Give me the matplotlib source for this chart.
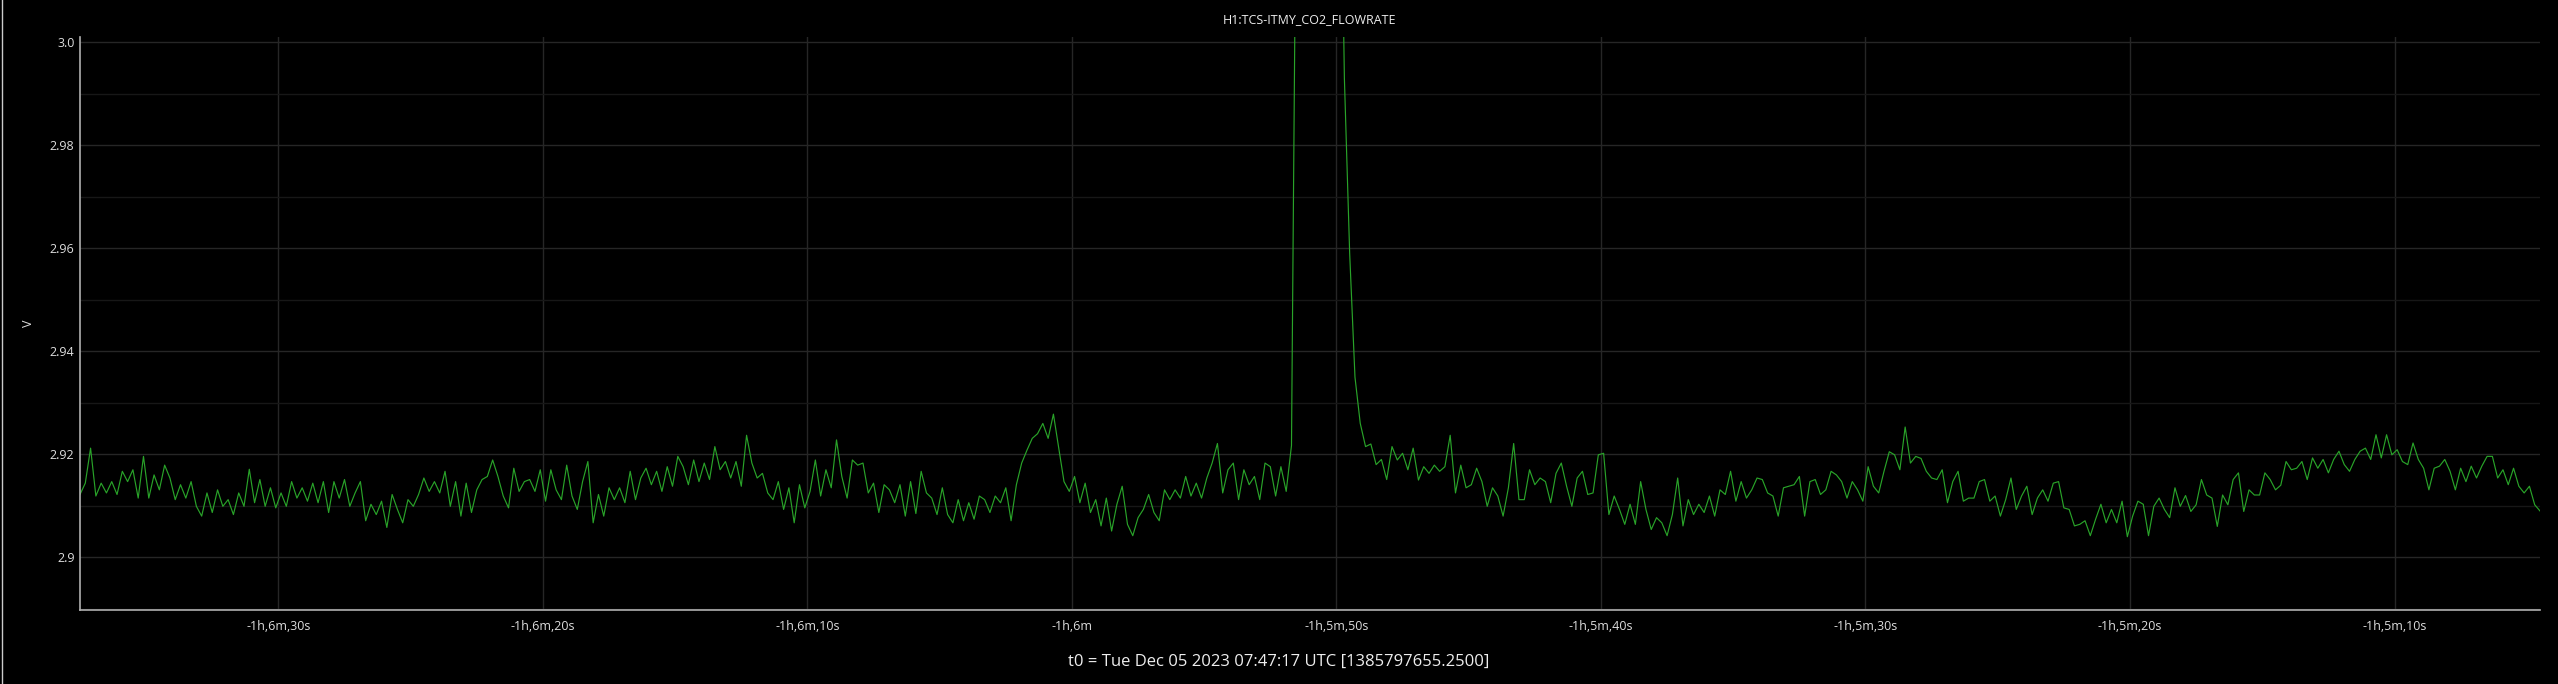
import numpy as np
import matplotlib
matplotlib.use("Agg")
from matplotlib import pyplot as plt
from matplotlib.ticker import MultipleLocator, FuncFormatter

plt.rcParams['font.family'] = ['Open Sans', 'DejaVu Sans']

# Channel and reference time of the trace.
channel = "H1:TCS-ITMY_CO2_FLOWRATE"
t0_text = "t0 = Tue Dec 05 2023 07:47:17 UTC [1385797655.2500]"
y_unit = "V"

# Samples are 0.2 s apart, first one at t0 - 3997.5 s.
t_first = -3997.5
t_step = 0.2
base_v = 2.9

# Flow rate, in mV above 2.9 V.
flow_mv = [
	# -1h6m37s .. -1h6m22s
	12.2, 14.4, 21.2, 11.9, 14.4, 12.5, 14.7, 12.2, 16.7, 14.7,
	17.0, 11.5, 19.6, 11.5, 16.0, 13.1, 17.9, 15.4, 11.2, 14.1,
	11.5, 14.7, 9.9, 8.0, 12.5, 8.7, 13.1, 9.9, 11.2, 8.3,
	12.5, 9.9, 17.1, 10.6, 15.1, 9.9, 13.5, 9.6, 12.5, 9.9,
	14.7, 11.5, 13.5, 10.9, 14.4, 10.6, 14.7, 8.7, 14.7, 11.5,
	15.1, 9.9, 12.5, 14.7, 7.1, 10.3, 8.3, 10.9, 5.8, 12.2,
	9.3, 6.7, 11.2, 9.9, 12.2, 15.4, 12.8, 14.7, 12.5, 16.7,
	9.9, 14.7, 8.0, 14.4, 8.7, 13.1, 15.1, 15.7, 18.9,
	# -1h6m22s .. -1h6m06s
	15.7, 11.9, 9.6, 17.3, 12.8, 14.7, 15.1, 12.8, 17.0, 10.9,
	17.0, 13.1, 11.2, 17.9, 11.9, 9.3, 14.7, 18.6, 6.7, 12.2,
	8.0, 13.5, 11.2, 13.5, 10.6, 16.7, 11.2, 15.4, 17.3, 14.1,
	16.7, 12.8, 17.6, 13.8, 19.6, 17.6, 14.1, 18.9, 14.7, 18.3,
	15.1, 21.5, 17.0, 18.6, 15.4, 18.6, 13.8, 23.7, 18.3, 15.4,
	16.3, 12.5, 11.2, 14.7, 9.3, 13.5, 6.7, 14.1, 9.6, 12.8,
	18.9, 11.9, 17.0, 13.5, 22.8, 15.7, 11.5, 18.9, 17.9, 18.3,
	12.5, 14.4, 8.7, 14.1, 13.1, 10.6, 14.1, 8.0, 14.7,
	# small bump near -1h6m, then up to the jump
	8.5,
	16.7, 12.5, 11.5, 8.3, 13.5, 8.3, 6.7, 11.2, 7.1, 10.6,
	7.4, 11.9, 11.2, 8.7, 11.9, 10.6, 13.5, 7.1, 14.1, 18.3,
	20.8, 23.1, 24.0, 26.0, 23.1, 27.8,
	21.2, 14.7, 12.8, 15.7, 10.6, 14.4, 8.7, 11.2, 6.1, 11.5,
	5.1, 10.3, 13.8, 6.4, 4.2, 7.7, 9.3, 12.2, 8.7, 7.1,
	13.1, 11.2, 13.1, 11.5, 15.7, 11.9, 14.4, 11.5, 15.4, 18.3,
	22.1, 12.5, 17.0, 18.3, 11.2, 17.0, 14.1, 15.7, 11.2, 18.3,
	17.6, 11.9, 17.6, 12.8,
	21.7,
	# off scale above 3.0 V, then decay
	150, 175, 195, 205, 210, 205, 195, 180, 160,
	93, 59, 35, 26,
	# -1h5m49s .. -1h5m34s
	21.5, 22.0, 18.0, 19.0, 15.1, 21.5, 18.9, 20.2, 17.0, 21.2,
	15.0, 17.6, 16.3, 17.9, 16.7, 17.6, 23.7, 12.5, 17.9, 13.5,
	14.1, 17.3, 14.7, 9.9, 13.5, 11.9, 8.0, 13.5, 22.1, 11.2,
	11.2, 17.0, 14.1, 15.4, 14.7, 10.6, 16.3, 18.3, 13.8, 9.9,
	15.4, 16.7, 12.2, 12.5, 19.9, 20.2, 8.3, 11.9, 9.3, 6.4,
	10.3, 6.4, 14.7, 9.3, 5.4, 7.7, 6.7, 4.2, 8.3, 15.4,
	6.1, 11.2, 8.3, 10.3, 8.7, 11.9, 8.0, 13.1, 12.2, 16.7,
	10.9, 14.7, 11.5, 13.1, 15.4,
	# -1h5m34s .. -1h5m18s
	15.1, 12.5, 11.9, 8.0, 13.5, 13.8, 14.1, 15.7, 8.0, 14.7,
	15.1, 12.2, 13.1, 16.7, 16.0, 14.7, 11.5, 14.7, 13.1, 10.9,
	17.6, 13.8, 12.5, 16.7, 20.5, 19.9, 17.0, 25.3, 18.3, 19.6,
	19.2, 16.7, 15.4, 15.1, 17.0, 10.6, 14.7, 16.7, 10.9, 11.5,
	11.5, 14.7, 15.1, 10.9, 11.9, 8.0, 11.2, 15.4, 9.3, 11.9,
	13.8, 8.3, 11.5, 13.1, 10.9, 14.4, 14.7, 9.6, 9.3, 6.1,
	6.4, 7.1, 4.2, 7.4, 10.3, 6.7, 9.3, 6.7, 10.9, 4.0,
	8.0, 10.9, 10.3, 4.2, 9.9, 11.5, 9.3, 7.7, 13.5, 9.9,
	# -1h5m18s .. -1h5m04s
	12.0, 8.9, 10.2, 15.1, 12.1, 11.5, 6.0, 12.1, 10.2, 15.1,
	16.4, 8.9, 13.1, 12.1, 12.1, 16.4, 15.1, 13.1, 14.0, 18.6,
	17.0, 17.3, 18.6, 15.1, 19.3, 17.3, 19.0, 16.4, 19.0, 20.6,
	18.0, 16.7, 19.0, 20.6, 21.2, 19.0, 23.8, 19.3, 23.8, 19.9,
	20.9, 18.6, 18.0, 22.2, 19.0, 17.3, 13.1, 17.3, 17.7, 19.0,
	16.7, 13.1, 17.3, 14.7, 17.7, 15.4, 17.7, 19.6, 19.6, 15.4,
	17.0, 14.1, 17.3, 13.8, 12.5, 13.8, 10.2, 9.0,
]

x_range = (-3997.5, -3904.5)
y_range = (2.88977, 3.00103)

flow = base_v + np.asarray(flow_mv) / 1000.0
t = t_first + t_step * np.arange(len(flow))


def time_label(sec, pos=None):
	# e.g. -3990 -> "-1h,6m,30s"
	sign = "-" if sec < 0 else ""
	s = int(round(abs(sec)))
	h, rest = divmod(s, 3600)
	m, s = divmod(rest, 60)
	parts = []
	if h:
		parts.append("%dh" % h)
	if m:
		parts.append("%dm" % m)
	if s:
		parts.append("%ds" % s)
	return sign + ",".join(parts)


def volt_label(v, pos=None):
	txt = "%.2f" % v
	if txt.endswith("0"):
		txt = txt[:-1]
	return txt


fig = plt.figure(figsize=(25.58, 6.84), dpi=100, facecolor='black')
ax = fig.add_axes([80 / 2558, 1 - 610 / 684, 2460 / 2558, 573 / 684])
ax.set_facecolor('black')

ax.plot(t, flow, color='#29a329', lw=0.85)

ax.set_xlim(*x_range)
ax.set_ylim(*y_range)

ax.xaxis.set_major_locator(MultipleLocator(10))
ax.xaxis.set_major_formatter(FuncFormatter(time_label))
ax.yaxis.set_major_locator(MultipleLocator(0.02))
ax.yaxis.set_minor_locator(MultipleLocator(0.01))
ax.yaxis.set_major_formatter(FuncFormatter(volt_label))

ax.grid(which='major', axis='both', color='#262626', lw=1.0)
ax.grid(which='minor', axis='y', color='#171717', lw=1.0)
ax.set_axisbelow(True)

ax.tick_params(axis='both', which='both', length=0, colors='#dddddd', labelsize=9)
ax.tick_params(axis='x', pad=7)
ax.tick_params(axis='y', pad=4)

for side in ['top', 'right']:
	ax.spines[side].set_visible(False)
for side in ['left', 'bottom']:
	ax.spines[side].set_color('#b0b0b0')
	ax.spines[side].set_linewidth(1.2)

fig.text(1310 / 2558, 1 - 20 / 684, channel, color='#eeeeee', fontsize=9,
	ha='center', va='center')
fig.text(29 / 2558, 1 - 323 / 684, y_unit, color='#dddddd', fontsize=9,
	rotation=90, ha='center', va='center')
fig.text(0.5, 1 - 662 / 684, t0_text, color='#eeeeee', fontsize=12,
	ha='center', va='center')

# thin light border on the left edge
fig.add_artist(plt.Line2D([0.0007, 0.0007], [0, 1], color='#cccccc', lw=1.0))

fig.savefig("out.png", dpi=100, facecolor='black')
